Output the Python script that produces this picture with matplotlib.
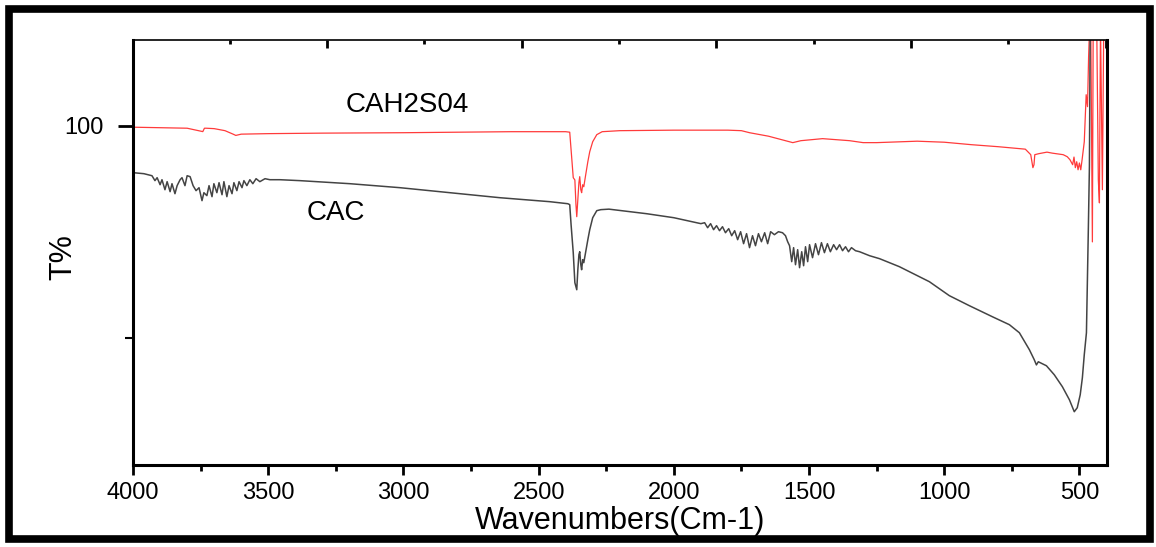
import matplotlib
matplotlib.use("Agg")
import matplotlib.pyplot as plt
from matplotlib.patches import Rectangle
from matplotlib.ticker import MultipleLocator
import numpy as np

plt.rcParams['font.family'] = ['Liberation Sans', 'DejaVu Sans']

# CAH2S04 spectrum (wavenumber, T%)
red_w = [4000, 3900, 3800, 3742, 3736, 3730, 3700, 3660, 3630, 3620, 3600, 3500,
         3300, 3000, 2800, 2600, 2400, 2385, 2380, 2372, 2366, 2362, 2359, 2355,
         2351, 2348, 2344, 2341, 2337, 2333, 2326, 2318, 2311, 2300, 2285, 2265,
         2200, 2000, 1800, 1750, 1720, 1650, 1560, 1530, 1450, 1350, 1300, 1250,
         1100, 1000, 900, 800, 700, 680, 672, 668, 665, 650, 620, 600, 560, 545,
         535, 525, 520, 515, 510, 505, 500, 495, 490, 482, 475, 470, 466, 462,
         458, 452, 449, 441, 436, 430, 426, 422, 415, 410, 400]
red_t = [99.82, 99.76, 99.70, 99.30, 99.70, 99.70, 99.65, 99.41, 99.00, 98.85,
         99.00, 99.06, 99.12, 99.17, 99.23, 99.29, 99.29, 99.23, 97.17, 93.87,
         93.60, 90.70, 89.27, 91.30, 93.30, 93.99, 92.45, 92.10, 93.04, 92.80,
         94.20, 95.76, 96.93, 98.11, 98.94, 99.29, 99.41, 99.47, 99.47, 99.41,
         99.17, 98.76, 98.00, 98.23, 98.47, 98.23, 98.00, 98.00, 98.17, 98.05,
         97.76, 97.52, 97.23, 96.58, 95.05, 95.40, 96.58, 96.70, 96.88, 96.76,
         96.58, 96.34, 95.99, 95.40, 96.30, 95.05, 95.75, 94.80, 95.60, 94.80,
         96.00, 98.10, 103.65, 102.24, 108.10, 112.0, 112.0, 86.30, 112.0, 112.0,
         112.0, 93.60, 90.90, 112.0, 92.45, 112.0, 112.0]

# CAC spectrum (wavenumber, T%)
gray_w = [4000, 3960, 3930, 3919, 3911, 3900, 3893, 3882, 3874, 3863, 3856, 3845,
          3837, 3826, 3819, 3808, 3800, 3789, 3778, 3767, 3756, 3745, 3738, 3727,
          3719, 3708, 3701, 3690, 3682, 3671, 3664, 3653, 3645, 3634, 3627, 3616,
          3608, 3597, 3590, 3579, 3568, 3557, 3545, 3531, 3512, 3494, 3457, 3383,
          3198, 3013, 2829, 2644, 2459, 2392, 2385, 2380, 2372, 2366, 2359, 2355,
          2351, 2348, 2344, 2341, 2337, 2333, 2326, 2318, 2311, 2300, 2285, 2270,
          2240, 2100, 2000, 1950, 1900, 1886, 1875, 1864, 1853, 1842, 1831, 1820,
          1809, 1797, 1786, 1775, 1764, 1753, 1742, 1731, 1720, 1709, 1698, 1687,
          1676, 1664, 1653, 1642, 1628, 1613, 1598, 1587, 1579, 1572, 1564, 1557,
          1550, 1542, 1535, 1527, 1520, 1513, 1505, 1498, 1487, 1476, 1465, 1454,
          1443, 1432, 1421, 1409, 1398, 1387, 1376, 1365, 1354, 1343, 1328, 1313,
          1276, 1239, 1166, 1055, 981, 907, 822, 759, 722, 685, 667, 659, 652,
          622, 593, 563, 537, 519, 508, 497, 489, 482, 474, 471, 467, 463, 460, 400]
gray_t = [94.46, 94.34, 94.10, 93.52, 93.87, 93.04, 93.63, 92.45, 93.40, 92.22,
          93.16, 91.98, 92.93, 93.63, 93.87, 92.93, 94.10, 93.99, 92.93, 92.34,
          92.69, 91.16, 92.10, 91.75, 92.93, 91.63, 93.16, 92.10, 93.28, 91.86,
          93.40, 91.63, 92.93, 91.98, 93.28, 92.34, 93.40, 92.69, 93.52, 92.93,
          93.63, 93.16, 93.75, 93.40, 93.75, 93.63, 93.63, 93.52, 93.16, 92.69,
          92.10, 91.51, 91.04, 90.80, 90.69, 88.33, 85.03, 81.49, 80.66, 83.02,
          84.79, 85.14, 83.61, 83.02, 84.20, 83.85, 85.14, 86.56, 87.74, 89.15,
          89.98, 90.10, 90.16, 89.62, 89.15, 88.80, 88.45, 88.56, 87.97, 88.45,
          87.74, 88.21, 87.62, 88.09, 87.38, 87.86, 87.03, 87.62, 86.56, 87.50,
          86.09, 87.27, 85.62, 87.03, 85.85, 87.27, 86.32, 87.38, 86.09, 87.50,
          87.15, 87.50, 87.38, 87.03, 86.32, 85.85, 83.97, 85.62, 83.61, 85.38,
          83.26, 85.14, 83.49, 85.73, 83.97, 85.97, 84.44, 86.09, 84.79, 86.21,
          85.03, 86.09, 85.14, 85.97, 85.38, 85.97, 85.26, 85.73, 85.14, 85.62,
          85.26, 85.14, 84.67, 84.32, 83.38, 81.61, 79.96, 78.78, 77.48, 76.54,
          75.59, 73.59, 72.41, 71.80, 72.17, 71.70, 70.64, 69.23, 67.69, 66.28,
          66.75, 68.28, 70.29, 73.00, 75.59, 80.66, 87.74, 95.17, 112.0, 112.0]

fig = plt.figure(figsize=(11.56, 5.47), dpi=100)
ax = fig.add_axes([0.1151, 0.1499, 0.8425, 0.7770])

ax.plot(red_w, red_t, color='#ff3b3b', lw=0.9)
ax.plot(gray_w, gray_t, color='#444444', lw=1.1)

ax.set_xlim(4000, 398)
ax.set_ylim(60, 110.1)

ax.xaxis.set_major_locator(MultipleLocator(500))
ax.xaxis.set_minor_locator(MultipleLocator(250))
ax.yaxis.set_major_locator(MultipleLocator(50))
ax.yaxis.set_minor_locator(MultipleLocator(25))

ax.tick_params(axis='x', which='major', direction='out', length=7, width=2, labelsize=17, pad=5)
ax.tick_params(axis='x', which='minor', direction='out', length=4, width=2)
ax.tick_params(axis='y', which='major', direction='out', length=11, width=2, labelsize=17, pad=10)
ax.tick_params(axis='y', which='minor', direction='out', length=6, width=1.5)
ax.tick_params(top=False, right=False)

for s in ['left', 'bottom', 'right']:
    ax.spines[s].set_linewidth(2.2)
ax.spines['top'].set_linewidth(1.2)

# ticks along the top edge, pointing in
top = ax.twiny()
top.set_xlim(ax.get_xlim())
top.set_xticks(np.arange(3283, 400, -720))
top.set_xticks(np.arange(3643, 400, -720), minor=True)
top.tick_params(which='major', direction='in', length=6, width=2, labeltop=False)
top.tick_params(which='minor', direction='in', length=3, width=2)
for s in top.spines.values():
    s.set_visible(False)

ax.set_xlabel('Wavenumbers(Cm-1)', fontsize=22, labelpad=2)
ax.set_ylabel('T%', fontsize=22)
ax.yaxis.set_label_coords(-0.056, 0.49)

ax.text(2987, 102.4, 'CAH2S04', fontsize=20, ha='center', va='center')
ax.text(3250, 89.7, 'CAC', fontsize=20, ha='center', va='center')

# frame around the whole figure
fig.patches.append(Rectangle((8.5 / 1156, 8.5 / 547), 1141 / 1156, 530 / 547,
                             transform=fig.transFigure, fill=False,
                             edgecolor='black', lw=5.5))

fig.savefig('out.png', dpi=100)
